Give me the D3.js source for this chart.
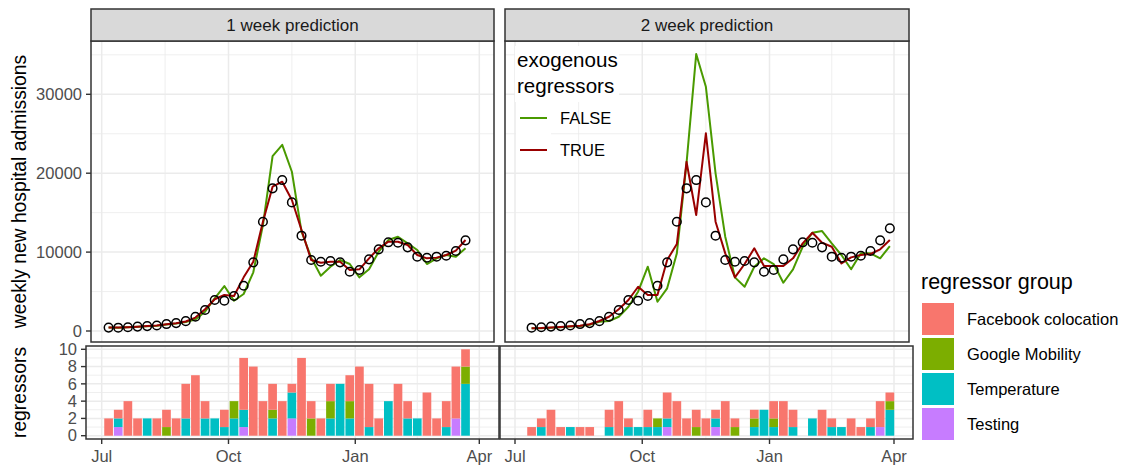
<!DOCTYPE html>
<meta charset="utf-8">
<script src="https://d3js.org/d3.v7.min.js"></script>
<style>
  body { margin: 0; background: #fff; }
  text { font-family: "Liberation Sans", Arial, sans-serif; }
</style>
<body>
<div id="chart"></div>
<script>

// weekly dates of the observed admissions
var dates = ["2020-07-06","2020-07-13","2020-07-20","2020-07-27","2020-08-03","2020-08-10","2020-08-17",
  "2020-08-24","2020-08-31","2020-09-07","2020-09-14","2020-09-21","2020-09-28","2020-10-05","2020-10-12",
  "2020-10-19","2020-10-26","2020-11-02","2020-11-09","2020-11-16","2020-11-23","2020-11-30","2020-12-07",
  "2020-12-14","2020-12-21","2020-12-28","2021-01-04","2021-01-11","2021-01-18","2021-01-25","2021-02-01",
  "2021-02-08","2021-02-15","2021-02-22","2021-03-01","2021-03-08","2021-03-15","2021-03-22","2021-03-29"];

var observed = [430, 420, 480, 560, 620, 700, 880, 1000, 1250, 1810, 2660, 3930, 3840, 4430, 5740, 8700,
  13850, 18080, 19130, 16300, 12080, 9000, 8780, 8870, 8700, 7510, 7730, 9080, 10350, 11240, 11190, 10600,
  9420, 9290, 9420, 9540, 10140, 11490, 13010];

// 1 week prediction (dates[0..37])
var pred1False = [430, 420, 470, 540, 600, 680, 820, 950, 1150, 1450, 2450, 4140, 5700, 3840, 4690, 7440,
  13430, 22170, 23600, 20180, 12600, 9300, 7010, 8150, 9000, 8490, 6800, 7820, 10050, 11530, 11950, 11110,
  10260, 8490, 9210, 9630, 9420, 10480];
var pred1True = [430, 430, 480, 550, 620, 700, 850, 980, 1200, 1700, 2750, 4020, 4560, 4430, 6800, 8780,
  13850, 18290, 18920, 16600, 12800, 9000, 8650, 8780, 8780, 7730, 7820, 9210, 10480, 11320, 11320, 10900,
  9630, 9210, 9300, 9630, 10180, 11530];

// 2 week prediction (dates[1..38])
var pred2False = [340, 360, 410, 480, 560, 640, 780, 1180, 1270, 1810, 3080, 4980, 8150, 3710, 5410, 9840,
  21250, 35100, 30950, 19980, 11950, 6800, 5610, 8150, 9210, 8490, 6120, 7820, 10680, 12450, 12670, 11110,
  9630, 7820, 9840, 9840, 9210, 10770];
var pred2True = [340, 370, 430, 510, 590, 680, 850, 1270, 1810, 2750, 3930, 5610, 4560, 4560, 9000, 11020,
  21450, 14700, 25050, 13850, 9840, 6800, 8490, 10480, 8240, 8240, 8240, 9210, 11110, 12450, 11190, 10680,
  8570, 9330, 9630, 9760, 10350, 11530];

// number of regressors per group, 1 week (dates[0..37])
var reg1Facebook = [2,1,4,2,0,2,2,2,4,7,2,0,2,0,6,8,4,3,4,1,9,2,2,2,0,3,8,5,2,0,6,2,0,5,2,3,6,2];
var reg1Google   = [0,0,0,0,0,0,1,0,0,0,0,0,0,2,0,0,0,1,0,0,0,2,0,2,0,2,0,0,0,0,0,0,0,0,0,0,0,2];
var reg1Temp     = [0,1,0,0,2,0,0,0,2,0,2,2,1,2,2,0,0,2,0,3,0,0,0,2,6,2,0,1,0,4,0,2,2,0,0,1,0,6];
var reg1Testing  = [0,1,0,0,0,0,0,0,0,0,0,0,0,0,1,0,0,0,0,2,0,0,0,0,0,0,0,0,0,0,0,0,0,0,0,0,2,0];

// number of regressors per group, 2 week (dates[1..38])
var reg2Facebook = [1,1,3,1,0,1,1,0,2,4,1,0,2,0,3,4,2,2,2,1,4,1,0,1,0,2,4,2,0,0,3,1,0,2,1,1,3,1];
var reg2Google   = [0,0,0,0,0,0,0,0,0,0,0,0,0,1,0,0,0,1,0,0,0,1,0,1,0,1,0,0,0,0,0,0,0,0,0,0,0,1];
var reg2Temp     = [0,1,0,0,1,0,0,0,1,0,1,1,1,1,1,0,0,0,0,1,0,0,0,1,3,1,0,1,0,2,0,1,1,0,0,1,0,3];
var reg2Testing  = [0,0,0,0,0,0,0,0,0,0,0,0,0,0,1,0,0,0,0,1,0,0,0,0,0,0,0,0,0,0,0,0,0,0,0,0,1,0];

var groups = ["Facebook colocation", "Google Mobility", "Temperature", "Testing"];
var groupColors = ["#F8766D", "#7CAE00", "#00BFC4", "#C77CFF"];
var exoLabels = ["FALSE", "TRUE"];
var exoColors = ["#4a9a00", "#990000"];

var yTicksTop = [0, 10000, 20000, 30000];
var yMinorTop = [5000, 15000, 25000, 35000];
var yTicksBottom = [0, 2, 4, 6, 8, 10];
var yMinorBottom = [1, 3, 5, 7, 9];
var xTickDates = ["2020-07-01", "2020-10-01", "2021-01-01", "2021-04-01"];
var xTickLabels = ["Jul", "Oct", "Jan", "Apr"];

var parse = d3.utcParse("%Y-%m-%d");
var W = 1142, H = 467;
var smallFont = 16.5, bigFont = 20.6;
var gridCol = "#EBEBEB", borderCol = "#333333";

var svg = d3.select("#chart").append("svg")
  .attr("width", W).attr("height", H);

// panel geometry
var topY = [41, 342], botY = [346, 439], stripY = [9, 41];
var yTop = d3.scaleLinear().domain([0, 30000]).range([331, 94.3]);
var yBot = d3.scaleLinear().domain([0, 10]).range([435.7, 349.3]);

var facets = [
  { label: "1 week prediction", top: [91, 494], bot: [86, 499], xr: [101.7, 479.3], off: 0,
    predF: pred1False, predT: pred1True,
    regs: { "Facebook colocation": reg1Facebook, "Google Mobility": reg1Google, "Temperature": reg1Temp, "Testing": reg1Testing } },
  { label: "2 week prediction", top: [505, 909], bot: [500, 913], xr: [515, 894], off: 1,
    predF: pred2False, predT: pred2True,
    regs: { "Facebook colocation": reg2Facebook, "Google Mobility": reg2Google, "Temperature": reg2Temp, "Testing": reg2Testing } }
];

var majorDates = xTickDates.map(parse);
var minorDates = d3.pairs(majorDates).map(function(p) { return new Date((+p[0] + +p[1]) / 2); });
var stackOrder = ["Testing", "Temperature", "Google Mobility", "Facebook colocation"];
var halfBar = 0.45 * 7 * 864e5;

facets.forEach(function(f, fi) {
  var x = d3.scaleUtc().domain([majorDates[0], majorDates[3]]).range(f.xr);
  var ds = dates.slice(f.off, f.off + 38).map(parse);

  // ---------- top panel ----------
  var clipId = "clipT" + fi;
  svg.append("clipPath").attr("id", clipId).append("rect")
    .attr("x", f.top[0]).attr("y", topY[0]).attr("width", f.top[1] - f.top[0]).attr("height", topY[1] - topY[0]);
  var gt = svg.append("g").attr("clip-path", "url(#" + clipId + ")");

  gt.selectAll(".vminor").data(minorDates).enter().append("line")
    .attr("x1", x).attr("x2", x).attr("y1", topY[0]).attr("y2", topY[1])
    .attr("stroke", gridCol).attr("stroke-width", 0.8);
  gt.selectAll(".hminor").data(yMinorTop).enter().append("line")
    .attr("x1", f.top[0]).attr("x2", f.top[1]).attr("y1", yTop).attr("y2", yTop)
    .attr("stroke", gridCol).attr("stroke-width", 0.8);
  gt.selectAll(".vmajor").data(majorDates).enter().append("line")
    .attr("x1", x).attr("x2", x).attr("y1", topY[0]).attr("y2", topY[1])
    .attr("stroke", gridCol).attr("stroke-width", 1.5);
  gt.selectAll(".hmajor").data(yTicksTop).enter().append("line")
    .attr("x1", f.top[0]).attr("x2", f.top[1]).attr("y1", yTop).attr("y2", yTop)
    .attr("stroke", gridCol).attr("stroke-width", 1.5);

  var line = d3.line()
    .x(function(d, i) { return x(ds[i]); })
    .y(function(d) { return yTop(d); });

  [f.predF, f.predT].forEach(function(series, si) {
    gt.append("path").datum(series)
      .attr("d", line)
      .attr("fill", "none")
      .attr("stroke", exoColors[si])
      .attr("stroke-width", 2)
      .attr("stroke-linejoin", "round");
  });

  gt.selectAll(".obs").data(observed.slice(f.off, f.off + 38)).enter().append("circle")
    .attr("cx", function(d, i) { return x(ds[i]); })
    .attr("cy", function(d) { return yTop(d); })
    .attr("r", 4.3)
    .attr("fill", "none").attr("stroke", "#000").attr("stroke-width", 1.5);

  svg.append("rect")
    .attr("x", f.top[0]).attr("y", topY[0]).attr("width", f.top[1] - f.top[0]).attr("height", topY[1] - topY[0])
    .attr("fill", "none").attr("stroke", borderCol).attr("stroke-width", 1.5);

  // strip
  svg.append("rect")
    .attr("x", f.top[0]).attr("y", stripY[0]).attr("width", f.top[1] - f.top[0]).attr("height", stripY[1] - stripY[0])
    .attr("fill", "#D9D9D9").attr("stroke", borderCol).attr("stroke-width", 1.5);
  svg.append("text")
    .attr("x", (f.top[0] + f.top[1]) / 2).attr("y", (stripY[0] + stripY[1]) / 2)
    .attr("dy", "0.35em").attr("text-anchor", "middle")
    .attr("font-size", 17).attr("fill", "#1A1A1A")
    .text(f.label);

  // ---------- bottom panel ----------
  var clipB = "clipB" + fi;
  svg.append("clipPath").attr("id", clipB).append("rect")
    .attr("x", f.bot[0]).attr("y", botY[0]).attr("width", f.bot[1] - f.bot[0]).attr("height", botY[1] - botY[0]);
  var gb = svg.append("g").attr("clip-path", "url(#" + clipB + ")");

  gb.selectAll(".vminor").data(minorDates).enter().append("line")
    .attr("x1", x).attr("x2", x).attr("y1", botY[0]).attr("y2", botY[1])
    .attr("stroke", gridCol).attr("stroke-width", 0.8);
  gb.selectAll(".hminor").data(yMinorBottom).enter().append("line")
    .attr("x1", f.bot[0]).attr("x2", f.bot[1]).attr("y1", yBot).attr("y2", yBot)
    .attr("stroke", gridCol).attr("stroke-width", 0.8);
  gb.selectAll(".vmajor").data(majorDates).enter().append("line")
    .attr("x1", x).attr("x2", x).attr("y1", botY[0]).attr("y2", botY[1])
    .attr("stroke", gridCol).attr("stroke-width", 1.5);
  gb.selectAll(".hmajor").data(yTicksBottom).enter().append("line")
    .attr("x1", f.bot[0]).attr("x2", f.bot[1]).attr("y1", yBot).attr("y2", yBot)
    .attr("stroke", gridCol).attr("stroke-width", 1.5);

  var rows = ds.map(function(d, i) {
    var r = { date: d };
    groups.forEach(function(g) { r[g] = f.regs[g][i]; });
    return r;
  });
  var stacked = d3.stack().keys(stackOrder)(rows);

  gb.selectAll(".layer").data(stacked).enter().append("g")
    .attr("fill", function(s) { return groupColors[groups.indexOf(s.key)]; })
    .selectAll("rect").data(function(s) { return s.filter(function(d) { return d[1] > d[0]; }); })
    .enter().append("rect")
    .attr("x", function(d) { return x(new Date(+d.data.date - halfBar)); })
    .attr("width", function(d) { return x(new Date(+d.data.date + halfBar)) - x(new Date(+d.data.date - halfBar)); })
    .attr("y", function(d) { return yBot(d[1]); })
    .attr("height", function(d) { return yBot(d[0]) - yBot(d[1]); });

  svg.append("rect")
    .attr("x", f.bot[0]).attr("y", botY[0]).attr("width", f.bot[1] - f.bot[0]).attr("height", botY[1] - botY[0])
    .attr("fill", "none").attr("stroke", borderCol).attr("stroke-width", 1.5);

  // x axis under bottom panel
  var xa = svg.append("g");
  xa.selectAll("line").data(majorDates).enter().append("line")
    .attr("x1", x).attr("x2", x).attr("y1", botY[1]).attr("y2", botY[1] + 5)
    .attr("stroke", borderCol).attr("stroke-width", 1.4);
  xa.selectAll("text").data(majorDates).enter().append("text")
    .attr("x", x).attr("y", 462)
    .attr("text-anchor", "middle").attr("font-size", smallFont).attr("fill", "#4D4D4D")
    .text(function(d, i) { return xTickLabels[i]; });

  // y axes only for the first facet
  if (fi === 0) {
    var yt = svg.append("g");
    yt.selectAll("line").data(yTicksTop).enter().append("line")
      .attr("x1", f.top[0] - 5).attr("x2", f.top[0]).attr("y1", yTop).attr("y2", yTop)
      .attr("stroke", borderCol).attr("stroke-width", 1.4);
    yt.selectAll("text").data(yTicksTop).enter().append("text")
      .attr("x", f.top[0] - 9).attr("y", yTop).attr("dy", "0.35em")
      .attr("text-anchor", "end").attr("font-size", smallFont).attr("fill", "#4D4D4D")
      .text(function(d) { return d; });

    var yb = svg.append("g");
    yb.selectAll("line").data(yTicksBottom).enter().append("line")
      .attr("x1", f.bot[0] - 5).attr("x2", f.bot[0]).attr("y1", yBot).attr("y2", yBot)
      .attr("stroke", borderCol).attr("stroke-width", 1.4);
    yb.selectAll("text").data(yTicksBottom).enter().append("text")
      .attr("x", f.bot[0] - 9).attr("y", yBot).attr("dy", "0.35em")
      .attr("text-anchor", "end").attr("font-size", smallFont).attr("fill", "#4D4D4D")
      .text(function(d) { return d; });
  }
});

// axis titles
svg.append("text")
  .attr("transform", "translate(26," + (topY[0] + topY[1]) / 2 + ") rotate(-90)")
  .attr("text-anchor", "middle").attr("font-size", 19.3).attr("fill", "#000")
  .text("weekly new hospital admissions");
svg.append("text")
  .attr("transform", "translate(26," + (botY[0] + botY[1]) / 2 + ") rotate(-90)")
  .attr("text-anchor", "middle").attr("font-size", 19.3).attr("fill", "#000")
  .text("regressors");

// legend: exogenous regressors (inside right panel)
var lg = svg.append("g");
lg.append("rect").attr("x", 515).attr("y", 46).attr("width", 104).attr("height", 56).attr("fill", "#fff");
lg.append("text").attr("x", 517).attr("y", 67).attr("font-size", bigFont).text("exogenous");
lg.append("text").attr("x", 517).attr("y", 93).attr("font-size", bigFont).text("regressors");
exoLabels.forEach(function(l, i) {
  var cy = 118 + i * 32;
  lg.append("rect").attr("x", 516).attr("y", cy - 16).attr("width", 35).attr("height", 32).attr("fill", "#fff");
  lg.append("line").attr("x1", 520).attr("x2", 547).attr("y1", cy).attr("y2", cy)
    .attr("stroke", exoColors[i]).attr("stroke-width", 2);
  lg.append("text").attr("x", 560).attr("y", cy).attr("dy", "0.35em")
    .attr("font-size", smallFont).attr("fill", "#000").text(l);
});

// legend: regressor group
var lr = svg.append("g");
lr.append("text").attr("x", 921).attr("y", 289).attr("font-size", 21.5).text("regressor group");
groups.forEach(function(g, i) {
  var top = 303 + i * 35;
  lr.append("rect").attr("x", 922).attr("y", top).attr("width", 32).attr("height", 32)
    .attr("fill", groupColors[i]);
  lr.append("text").attr("x", 967).attr("y", top + 16).attr("dy", "0.35em")
    .attr("font-size", smallFont).attr("fill", "#000").text(g);
});

</script>
</body>
